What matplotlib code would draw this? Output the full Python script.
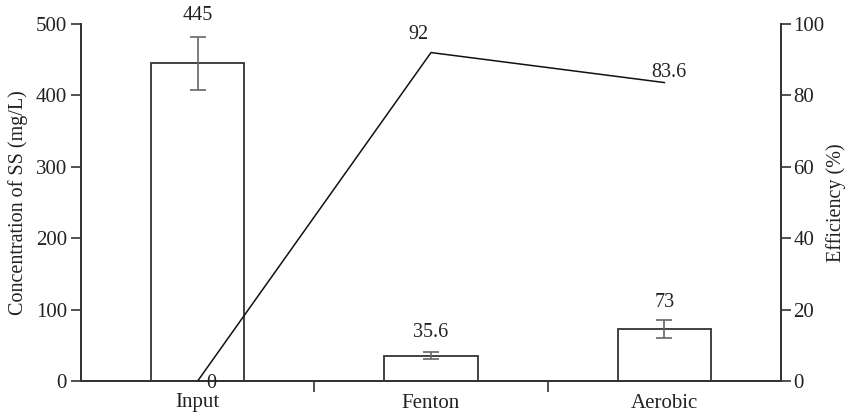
import matplotlib
matplotlib.use("Agg")
import matplotlib.pyplot as plt
import numpy as np

categories = ["Input", "Fenton", "Aerobic"]
ss_conc = [445, 35.6, 73]
ss_err = [37, 5, 13]
efficiency = [0, 92, 83.6]

plt.rcParams["font.family"] = ["Liberation Serif", "DejaVu Serif"]
plt.rcParams["font.size"] = 14.5

TXT = "#222222"
EDGE = "#333333"

fig = plt.figure(figsize=(8.49, 4.17), dpi=100)
ax = fig.add_axes([81 / 849, 36 / 417, 700 / 849, 357 / 417])
x = np.arange(len(categories))

ax.bar(x, ss_conc, width=0.4, color="white", edgecolor=EDGE, linewidth=1.3, zorder=2)
ax.errorbar(x, ss_conc, yerr=ss_err, fmt="none", ecolor="#666666", elinewidth=1.2,
            capsize=6, capthick=1.2, zorder=3)
bar_label_offsets = [15.7, 14.4, 12.0]
for xi, v, e, dy in zip(x, ss_conc, ss_err, bar_label_offsets):
    ax.annotate(f"{v:g}", (xi, v + e), xytext=(0, dy), textcoords="offset points",
                ha="center", va="center", fontsize=14.5, color=TXT)

ax.set_xlim(-0.5, 2.5)
ax.set_ylim(0, 500)
ax.set_yticks(range(0, 501, 100))
ax.set_xticks(x)
ax.set_xticklabels(categories, color=TXT)
ax.set_xticks([0.5, 1.5], minor=True)
ax.tick_params(axis="x", which="major", length=0, pad=9, labelsize=15)
ax.tick_params(axis="x", which="minor", length=8, width=1.2, direction="out", color=EDGE)
ax.tick_params(axis="y", length=7, width=1.2, direction="out", labelsize=15,
               color=EDGE, labelcolor=TXT, pad=3)
ax.set_ylabel("Concentration of SS (mg/L)", fontsize=14.5, labelpad=6, color=TXT)
ax.spines["top"].set_visible(False)
for s in ["left", "bottom", "right"]:
    ax.spines[s].set_linewidth(1.3)
    ax.spines[s].set_color(EDGE)

ax2 = ax.twinx()
ax2.plot(x, efficiency, color="#111111", linewidth=1.1, zorder=4)
ax2.set_ylim(0, 100)
ax2.set_yticks(range(0, 101, 20))
ax2.tick_params(axis="y", length=7, width=1.2, direction="out", labelsize=15,
                color=EDGE, labelcolor=TXT, pad=2)
ax2.set_ylabel("Efficiency (%)", fontsize=14.5, labelpad=1, color=TXT)
ax2.spines["top"].set_visible(False)
for s in ["left", "bottom", "right"]:
    ax2.spines[s].set_linewidth(1.3)
    ax2.spines[s].set_color(EDGE)

line_label_offsets = [(10, -1.8), (-9.4, 12.7), (3, 7.3)]
for xi, v, off in zip(x, efficiency, line_label_offsets):
    ax2.annotate(f"{v:g}", (xi, v), xytext=off, textcoords="offset points",
                 ha="center", va="center", fontsize=14.5, color=TXT)

fig.savefig("out.png", dpi=100)
